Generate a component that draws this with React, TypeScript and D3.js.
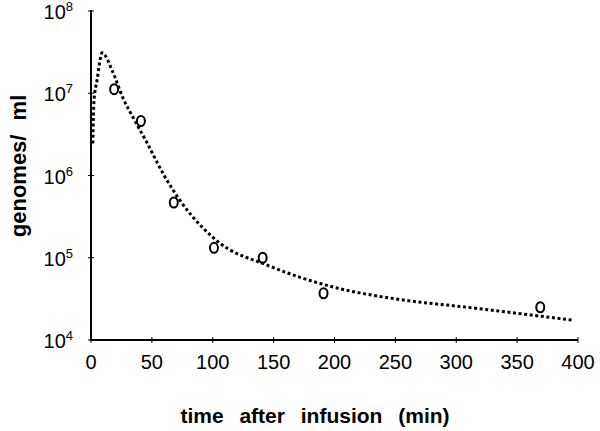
import React from "react";
import * as d3 from "d3";

const xTicks = [0, 50, 100, 150, 200, 250, 300, 350, 400];
const yTickExps = [4, 5, 6, 7, 8];

const obsTime = [19, 41, 68, 101, 141, 191, 369];
const obsValue = [1.12e7, 4.6e6, 4.7e5, 1.32e5, 1.0e5, 3.7e4, 2.5e4];

const fitTime = [1.5, 2.5, 5, 7.4, 9, 18, 26, 34.5, 46, 59, 73, 92, 106, 145, 199, 254, 309, 363, 396];
const fitValue = [2.45e6, 8.3e6, 1.45e7, 2.5e7, 3.1e7, 1.8e7, 8.9e6, 5.1e6, 2.5e6, 1.07e6, 5e5, 2.3e5, 1.5e5, 8.1e4, 4.4e4, 3.1e4, 2.5e4, 2.0e4, 1.74e4];

const xTitle = "time after infusion (min)";
const yTitle = "genomes/ ml";

export default function App() {
  const W = 600;
  const H = 431;
  const x = d3.scaleLinear().domain([0, 400]).range([91, 578]);
  const y = d3.scaleLog().domain([1e4, 1e8]).range([340, 11]);

  const fitPts = fitTime.map((t, i) => [t, fitValue[i]] as [number, number]);
  const line = d3
    .line<[number, number]>()
    .x((d) => x(d[0]))
    .y((d) => y(d[1]))
    .curve(d3.curveMonotoneX);

  const font = "'Liberation Sans', Arial, Helvetica, sans-serif";

  return (
    <svg
      width={W}
      height={H}
      style={{ position: "absolute", left: 0, top: 0, background: "#fff" }}
      fontFamily={font}
    >
      <rect x={0} y={0} width={W} height={H} fill="#fff" />
      {/* fitted curve */}
      <path
        d={line(fitPts) || ""}
        fill="none"
        stroke="#000"
        strokeWidth={3}
        strokeDasharray="3 2.6"
      />
      {/* observations */}
      {obsTime.map((t, i) => (
        <ellipse
          key={i}
          cx={x(t)}
          cy={y(obsValue[i])}
          rx={4}
          ry={5}
          fill="none"
          stroke="#000"
          strokeWidth={2}
        />
      ))}
      {/* axes */}
      <line x1={x(0)} x2={x(0)} y1={y(1e8) - 1} y2={y(1e4) + 1} stroke="#000" strokeWidth={2} />
      <line x1={x(0) - 1} x2={x(400)} y1={y(1e4)} y2={y(1e4)} stroke="#000" strokeWidth={2} />
      {yTickExps.map((e) => (
        <g key={e}>
          <line x1={x(0) - 3} x2={x(0) + 3} y1={y(Math.pow(10, e))} y2={y(Math.pow(10, e))} stroke="#000" strokeWidth={1} />
          <text x={73} y={y(Math.pow(10, e)) + 8} textAnchor="end" fontSize={20} fill="#000">
            10
            <tspan fontSize={13} dy={-8}>
              {e}
            </tspan>
          </text>
        </g>
      ))}
      {xTicks.map((t) => (
        <g key={t}>
          <line x1={x(t)} x2={x(t)} y1={y(1e4) - 3} y2={y(1e4) + 3} stroke="#000" strokeWidth={1} />
          <text x={x(t)} y={369} textAnchor="middle" fontSize={20} fill="#000">
            {t}
          </text>
        </g>
      ))}
      <text
        x={315}
        y={423}
        textAnchor="middle"
        fontSize={21}
        fontWeight="bold"
        wordSpacing={10}
        fill="#000"
      >
        {xTitle}
      </text>
      <text
        transform={`translate(26,166) rotate(-90)`}
        textAnchor="middle"
        fontSize={22}
        fontWeight="bold"
        wordSpacing={8}
        fill="#000"
      >
        {yTitle}
      </text>
    </svg>
  );
}
